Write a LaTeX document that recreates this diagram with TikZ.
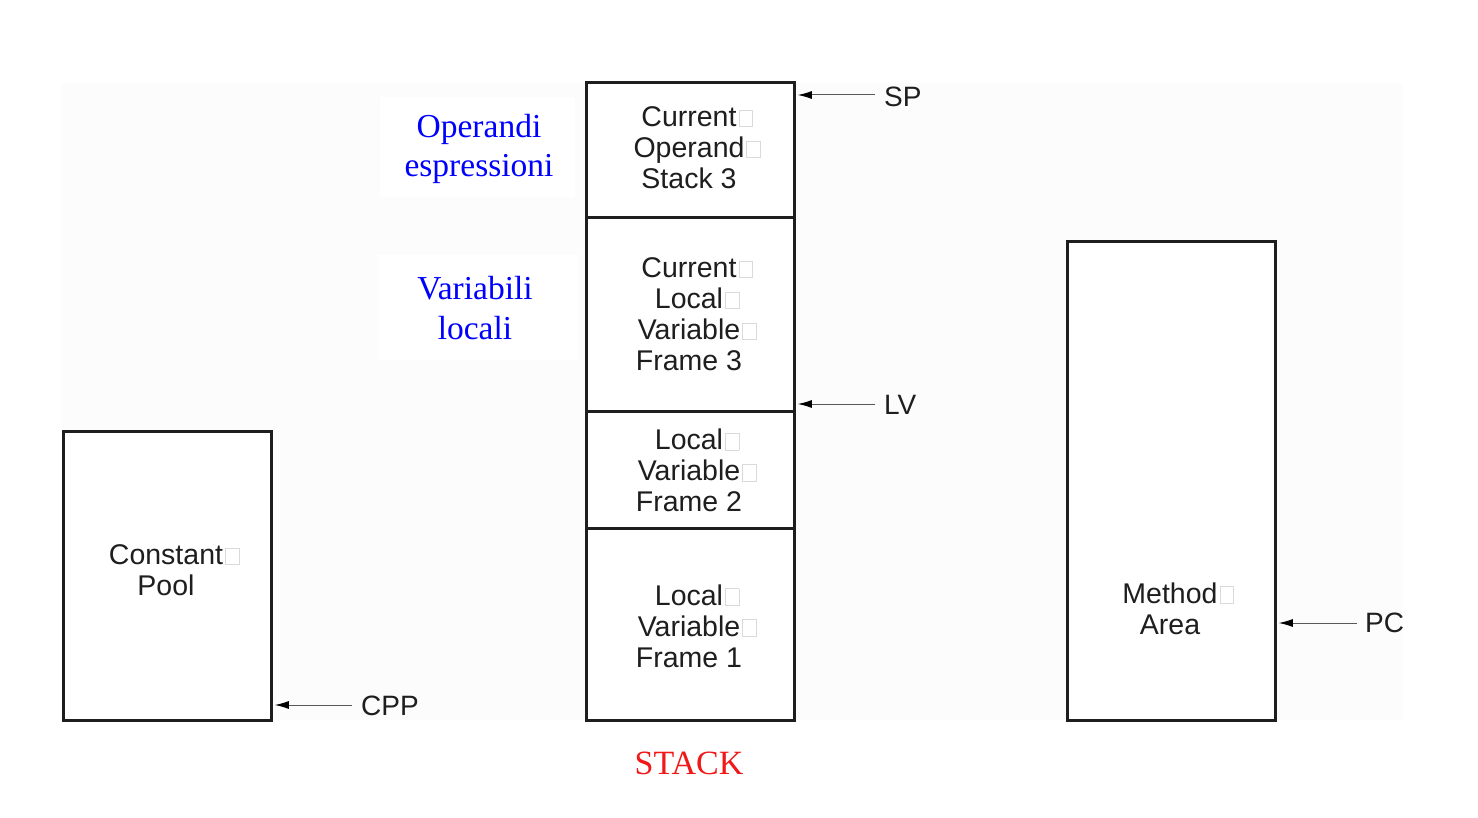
\documentclass[tikz,border=0pt]{standalone}
\usepackage{fontspec}
\setmainfont{Liberation Serif}
\newfontfamily\lsans{Liberation Sans}
\usetikzlibrary{arrows.meta}
\definecolor{bgc}{HTML}{FCFCFC}
\definecolor{ink}{HTML}{1E1E1E}
\definecolor{gbc}{HTML}{DADADA}
\definecolor{lbl}{HTML}{0000FF}
\definecolor{stk}{HTML}{F01818}
\newcommand\gbx{\rlap{\kern2pt{\color{gbc}\setlength{\fboxsep}{0pt}\setlength{\fboxrule}{0.7pt}\fbox{\rule{0pt}{16pt}\rule{13pt}{0pt}}}}}
\tikzset{
  memb/.style={draw=ink, line width=2.8pt, fill=white, minimum width=208pt, inner sep=0pt, anchor=north west},
  memtxt/.style={font=\lsans\fontsize{28.5}{31}\selectfont, text=ink, align=center, inner sep=0pt},
  regtxt/.style={font=\lsans\fontsize{28}{31}\selectfont, text=ink, anchor=west, inner sep=0pt},
  bluetxt/.style={font=\fontsize{33.5}{39.5}\selectfont, text=lbl, align=center, inner sep=0pt},
  arr/.style={draw=black!65, line width=1pt, -{Latex[length=14pt,width=8pt,color=black]}}
}
\begin{document}
\begin{tikzpicture}[x=1pt,y=-1pt]
\useasboundingbox (0,0) rectangle (1478,818);
\fill[bgc] (62,83) rectangle (1402,720);
\fill[white] (380,97) rectangle (575,197);
\fill[white] (378,255) rectangle (578,360);

% stack
\node[memb, minimum height=135pt] (s1) at (585,81) {};
\node[memb, minimum height=194pt] (s2) at (585,216) {};
\node[memb, minimum height=117pt] (s3) at (585,410) {};
\node[memb, minimum height=192pt] (s4) at (585,527) {};
\node[memtxt] (t1) at (689,147.5) {Current\gbx\\Operand\gbx\\Stack 3};
\node[memtxt] (t2) at (689,314) {Current\gbx\\Local\gbx\\Variable\gbx\\Frame 3};
\node[memtxt] (t3) at (689,470.5) {Local\gbx\\Variable\gbx\\Frame 2};
\node[memtxt] (t4) at (689,626) {Local\gbx\\Variable\gbx\\Frame 1};

% constant pool
\node[memb, minimum height=289pt] (cp) at (62,430) {};
\node[memtxt] (cpt) at (166,570) {Constant\gbx\\Pool};

% method area
\node[memb, minimum height=479pt] (ma) at (1066,240) {};
\node[memtxt] (mat) at (1170,608.5) {Method\gbx\\Area};

% registers
\node[regtxt] (sp) at (884,97) {SP};
\node[regtxt] (lv) at (884,405) {LV};
\node[regtxt] (pc) at (1365,623) {PC};
\node[regtxt] (cpp) at (361,706) {CPP};
\coordinate (spt) at (875,95);
\coordinate (lvt) at (875,404);
\coordinate (pct) at (1357,623);
\coordinate (cppt) at (352,705);
\draw[arr] (spt) -- ([xshift=2pt]s1.east |- spt);
\draw[arr] (lvt) -- ([xshift=2pt]s2.east |- lvt);
\draw[arr] (pct) -- ([xshift=2pt]ma.east |- pct);
\draw[arr] (cppt) -- ([xshift=2pt]cp.east |- cppt);

% labels
\node[bluetxt] (op) at (479,149) {Operandi\\espressioni};
\node[bluetxt] (vl) at (475,308) {Variabili\\locali};
\node[font=\fontsize{34}{40}\selectfont, text=stk, inner sep=0pt] (st) at (689,763) {STACK};
\end{tikzpicture}
\end{document}
